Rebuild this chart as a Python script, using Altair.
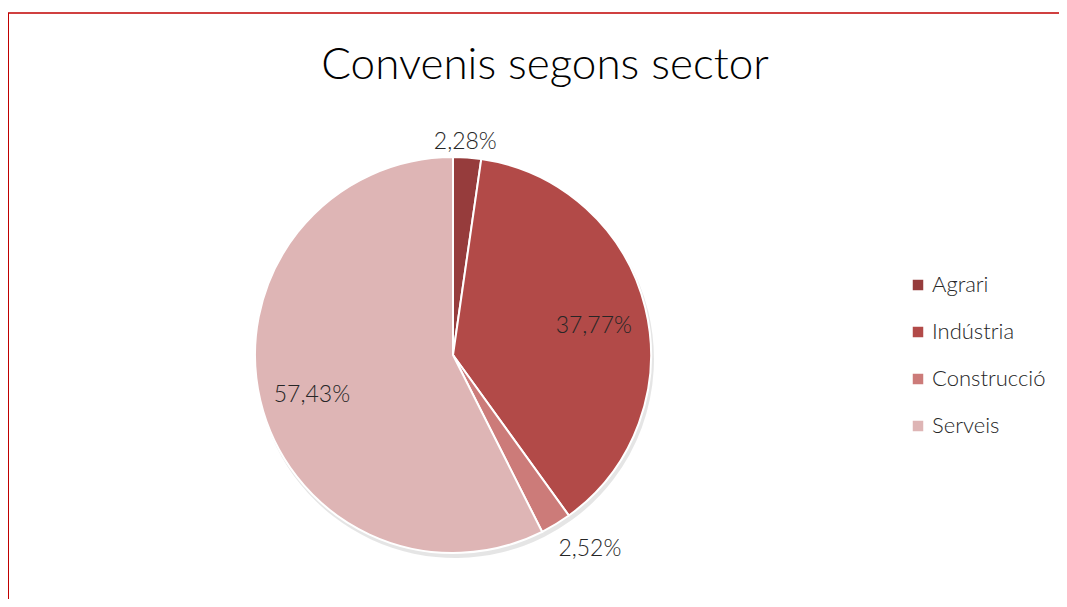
import altair as alt
import pandas as pd

sectors = ["Agrari", "Indústria", "Construcció", "Serveis"]
shares = [2.28, 37.77, 2.52, 57.43]
labels = ["2,28%", "37,77%", "2,52%", "57,43%"]
order = [1, 2, 3, 4]
colors = ["#963C3C", "#B24A48", "#CC7B79", "#DEB5B5"]

df = pd.DataFrame({"sector": sectors, "share": shares, "label": labels, "order": order})

W, H = 1051, 591
CX, CY = 445, 347
R = 198
FONT = "Lato"

base = alt.Chart(df).encode(
    theta=alt.Theta("share:Q", stack=True),
    order=alt.Order("order:Q"),
)

shadow = base.mark_arc(radius=R + 1, color="#000000", opacity=0.10).encode(
    x=alt.value(CX + 2), y=alt.value(CY + 4))

pie = base.mark_arc(radius=R, stroke="white", strokeWidth=2).encode(
    x=alt.value(CX), y=alt.value(CY),
    color=alt.Color("sector:N", sort=sectors,
                    scale=alt.Scale(domain=sectors, range=colors),
                    legend=alt.Legend(title=None, orient="none", legendX=899, legendY=266,
                                      labelFont=FONT, labelFontSize=22, labelFontWeight=300,
                                      labelColor="#262626",
                                      symbolType="square", symbolSize=110, symbolStrokeWidth=0,
                                      rowPadding=25, labelOffset=3)),
)


def label_layer(names, radius, dx=0, dy=0):
    cond = " || ".join(f"datum.sector == '{n}'" for n in names)
    return base.mark_text(radius=radius, dx=dx, dy=dy, font=FONT, fontSize=23,
                          fontWeight=300, color="#262626").encode(
        x=alt.value(CX), y=alt.value(CY), text="label:N",
        opacity=alt.condition(cond, alt.value(1), alt.value(0)))


txt_in = label_layer(["Indústria", "Serveis"], 145, dy=6)
txt_agr = label_layer(["Agrari"], 214, dx=-3)
txt_con = label_layer(["Construcció"], 227, dx=19)

title = alt.Chart(pd.DataFrame({"t": ["Convenis segons sector"]})).mark_text(
    font=FONT, fontSize=44, fontWeight=300, color="#000000", baseline="middle").encode(
    x=alt.value(537), y=alt.value(58), text="t:N")

border_v = alt.Chart(pd.DataFrame({"a": [0]})).mark_rule(color="#C00000", strokeWidth=2).encode(
    x=alt.value(0), y=alt.value(5), y2=alt.value(H + 10))
border_h = alt.Chart(pd.DataFrame({"a": [0]})).mark_rule(color="#C00000", strokeWidth=1.5).encode(
    x=alt.value(0), x2=alt.value(W + 10), y=alt.value(5))

chart = alt.layer(shadow, pie, txt_in, txt_agr, txt_con, title, border_v, border_h).properties(
    width=W, height=H, autosize=alt.AutoSizeParams(type="none"), padding=0
).configure_view(stroke=None)

chart.save("out.html", embed_options={"renderer": "svg", "actions": False})
